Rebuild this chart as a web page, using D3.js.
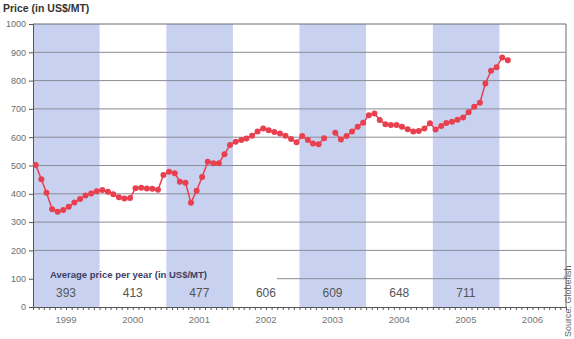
<!DOCTYPE html>
<html>
<head>
<meta charset="utf-8">
<script src="https://cdn.jsdelivr.net/npm/d3@7"></script>
<style>
  body { margin: 0; background: #fff; }
  svg text { font-family: "Liberation Sans", Arial, sans-serif; }
</style>
</head>
<body>
<div id="chart"></div>
<script>
// monthly prices, US$/MT (null = no quote)
const years = [1999, 2000, 2001, 2002, 2003, 2004, 2005, 2006];
const prices1999 = [502, 451, 404, 345, 337, 343, 354, 369, 382, 394, 401, 409];
const prices2000 = [413, 407, 398, 388, 383, 385, 420, 421, 419, 418, 414, 466];
const prices2001 = [478, 473, 443, 439, 368, 411, 459, 513, 508, 508, 540, 572];
const prices2002 = [584, 590, 595, 605, 620, 631, 625, 618, 613, 605, 594, 582];
const prices2003 = [604, 590, 578, 575, 596, null, 616, 592, 604, 620, 637, 651];
const prices2004 = [678, 684, 661, 646, 643, 643, 637, 628, 620, 622, 631, 649];
const prices2005 = [627, 640, 650, 655, 662, 670, 688, 708, 722, 790, 835, 847];
const prices2006 = [882, 872];
const yearAverages = [393, 413, 477, 606, 609, 648, 711];
const yTicks = [0, 100, 200, 300, 400, 500, 600, 700, 800, 900, 1000];

const allPrices = [prices1999, prices2000, prices2001, prices2002, prices2003, prices2004, prices2005, prices2006];
const data = [];
allPrices.forEach(function(arr, i) {
  arr.forEach(function(v, m) {
    data.push({ date: new Date(years[i], m, 16), value: v });
  });
});

const w = 574;
const h = 339;
const margin = { top: 24, right: 8, bottom: 32, left: 33 };

const svg = d3.select("#chart")
  .append("svg")
  .attr("width", w)
  .attr("height", h);

const x = d3.scaleTime()
  .domain([new Date(1999, 0, 1), new Date(2007, 0, 1)])
  .range([margin.left, w - margin.right]);

const y = d3.scaleLinear()
  .domain([0, 1000])
  .range([h - margin.bottom, margin.top]);

// alternating year bands
svg.append("g")
  .selectAll("rect")
  .data(years.filter((d, i) => i % 2 === 0))
  .join("rect")
  .attr("x", d => x(new Date(d, 0, 1)))
  .attr("y", y(1000))
  .attr("width", d => x(new Date(d + 1, 0, 1)) - x(new Date(d, 0, 1)))
  .attr("height", y(0) - y(1000))
  .attr("fill", "#c8d2f0");

// gridlines (the 100 line stops short of the average label)
svg.append("g")
  .selectAll("line")
  .data(yTicks.filter(d => d > 0 && d < 1000))
  .join("line")
  .attr("x1", d => d === 100 ? 277 : margin.left)
  .attr("x2", w - margin.right)
  .attr("y1", d => y(d))
  .attr("y2", d => y(d))
  .attr("stroke", "#8a8c96")
  .attr("stroke-width", 1);

// frame top + right
svg.append("path")
  .attr("d", `M${margin.left},${y(1000)}H${w - margin.right}V${y(0)}`)
  .attr("fill", "none")
  .attr("stroke", "#6a6c74")
  .attr("stroke-width", 1);

// y axis
const yAxis = svg.append("g")
  .attr("transform", `translate(${margin.left},0)`)
  .call(d3.axisLeft(y).tickValues(yTicks).tickFormat(d3.format("d")).tickSize(4).tickPadding(3));
yAxis.select(".domain").attr("stroke", "#555");
yAxis.selectAll(".tick line").attr("stroke", "#555");
yAxis.selectAll("text").attr("fill", "#6b6b6b").style("font-size", "9px");

// x axis: monthly ticks, year labels centred in each band
const xAxis = svg.append("g")
  .attr("transform", `translate(0,${y(0)})`)
  .call(d3.axisBottom(x).ticks(d3.timeMonth.every(1)).tickSize(3).tickFormat(""));
xAxis.select(".domain").attr("stroke", "#555");
xAxis.selectAll(".tick line").attr("stroke", "#555");

svg.append("g")
  .selectAll("text")
  .data(years)
  .join("text")
  .attr("x", d => x(new Date(d, 6, 1)))
  .attr("y", y(0) + 16)
  .attr("text-anchor", "middle")
  .attr("fill", "#777")
  .style("font-size", "9.5px")
  .text(d => d);

// price line
const line = d3.line()
  .defined(d => d.value !== null)
  .x(d => x(d.date))
  .y(d => y(d.value));

svg.append("path")
  .datum(data)
  .attr("fill", "none")
  .attr("stroke", "#e8404e")
  .attr("stroke-width", 1.5)
  .attr("d", line);

svg.append("g")
  .selectAll("circle")
  .data(data.filter(d => d.value !== null))
  .join("circle")
  .attr("cx", d => x(d.date))
  .attr("cy", d => y(d.value))
  .attr("r", 3)
  .attr("fill", "#e8404e");

// average price per year
svg.append("text")
  .attr("x", 50)
  .attr("y", y(100) - 1)
  .attr("fill", "#3b4066")
  .style("font-size", "9.5px")
  .style("font-weight", "bold")
  .text("Average price per year (in US$/MT)");

svg.append("g")
  .selectAll("text")
  .data(yearAverages)
  .join("text")
  .attr("x", (d, i) => x(new Date(years[i], 6, 1)))
  .attr("y", y(36))
  .attr("text-anchor", "middle")
  .attr("fill", "#555")
  .style("font-size", "12px")
  .text(d => d);

// title
svg.append("text")
  .attr("x", 3)
  .attr("y", 12)
  .attr("fill", "#333")
  .style("font-size", "10.5px")
  .style("font-weight", "bold")
  .text("Price (in US$/MT)");

// source
svg.append("text")
  .attr("transform", `translate(${w - 3},337) rotate(-90)`)
  .attr("fill", "#666")
  .style("font-size", "9px")
  .text("Source: Globefish");
</script>
</body>
</html>
